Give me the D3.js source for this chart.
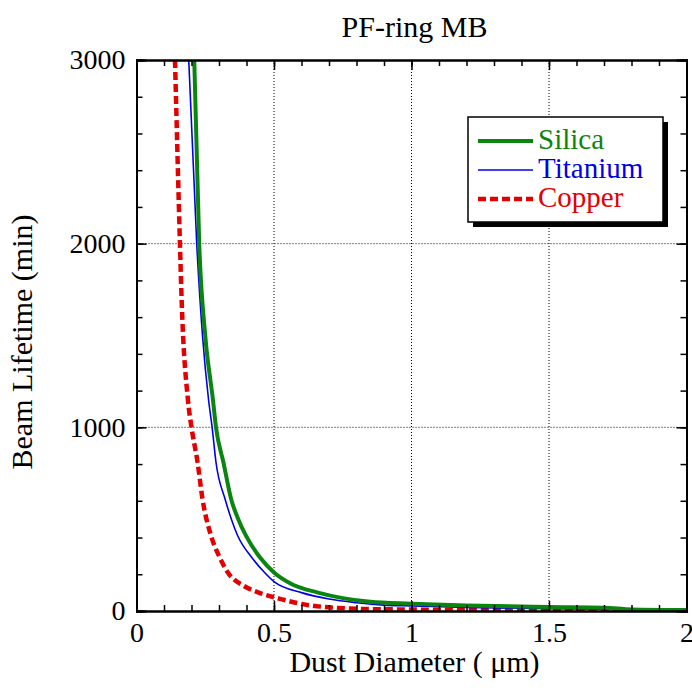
<!DOCTYPE html>
<html>
<head>
<meta charset="utf-8">
<script src="https://cdn.jsdelivr.net/npm/d3@7"></script>
<style>
    body { margin: 0; background: #fff; }
    text { font-family: "Liberation Serif", "Times New Roman", serif; }
</style>
</head>
<body>
<div id="chart"></div>
<script>
// values (diameter in um, lifetime in min)
let seriesNames = ["Silica", "Titanium", "Copper"]

let silicaD = [0.21, 0.228, 0.25, 0.278, 0.289, 0.316, 0.344, 0.37, 0.398, 0.45, 0.5, 0.56, 0.66, 0.75, 0.85, 1.0, 1.2, 1.5, 1.7, 1.8, 2.0]
let silicaL = [3000, 2000, 1500, 1150, 1000, 810, 610, 500, 410, 290, 210, 150, 100, 70, 50, 40, 30, 22, 18, 8, 5]

let titaniumD = [0.19, 0.219, 0.24, 0.262, 0.275, 0.289, 0.322, 0.345, 0.368, 0.42, 0.464, 0.5, 0.6, 0.7, 0.8, 0.9, 1.0, 1.2, 1.5, 2.0]
let titaniumL = [3000, 2000, 1500, 1150, 1000, 810, 610, 500, 410, 290, 212, 160, 100, 65, 45, 32, 28, 20, 12, 5]

let copperD = [0.14, 0.158, 0.164, 0.187, 0.2, 0.222, 0.24, 0.271, 0.3, 0.331, 0.391, 0.44, 0.525, 0.62, 0.7, 0.8, 1.0, 1.2, 1.5, 2.0]
let copperL = [3000, 2000, 1700, 1150, 1000, 810, 610, 410, 300, 212, 136, 103, 65, 33, 20, 12, 8, 5, 3, 2]

let xTicks = [0, 0.5, 1, 1.5, 2]
let xTickLabels = ["0", "0.5", "1", "1.5", "2"]
let yTicks = [0, 1000, 2000, 3000]
let yTickLabels = ["0", "1000", "2000", "3000"]

// set the dimensions and margins of the graph
let margin = {
        top: 60,
        right: 5.5,
        bottom: 80,
        left: 136.5
    },
    width = 692 - margin.left - margin.right,
    height = 691 - margin.top - margin.bottom;

let svg = d3.select("#chart")
    .append("svg")
    .attr("width", 692)
    .attr("height", 691)
    .append("g")
    .attr("transform", "translate(" + margin.left + "," + margin.top + ")");

let x = d3.scaleLinear().domain([0, 2]).range([0, width])
let y = d3.scaleLinear().domain([0, 3000]).range([height, 0])

let color = d3.scaleOrdinal().domain(seriesNames).range(["#0a850f", "#0000e6", "#e30000"])
let widths = { Silica: 4, Titanium: 1.6, Copper: 4.5 }
let dashes = { Silica: null, Titanium: null, Copper: "8,4" }

let dataReady = [
    { name: "Silica", values: silicaD.map((d, i) => ({ d: d, l: silicaL[i] })) },
    { name: "Titanium", values: titaniumD.map((d, i) => ({ d: d, l: titaniumL[i] })) },
    { name: "Copper", values: copperD.map((d, i) => ({ d: d, l: copperL[i] })) }
]

// dotted grid at the major ticks
svg.append("g")
    .selectAll("line")
    .data(xTicks.slice(1, -1))
    .enter()
    .append("line")
    .attr("x1", d => x(d)).attr("x2", d => x(d))
    .attr("y1", 0).attr("y2", height)
    .attr("stroke", "#000").attr("stroke-width", 1).attr("stroke-dasharray", "1,2")
svg.append("g")
    .selectAll("line")
    .data(yTicks.slice(1, -1))
    .enter()
    .append("line")
    .attr("y1", d => y(d)).attr("y2", d => y(d))
    .attr("x1", 0).attr("x2", width)
    .attr("stroke", "#000").attr("stroke-width", 1).attr("stroke-dasharray", "1,2")

// clip the curves to the frame
svg.append("clipPath").attr("id", "clip")
    .append("rect").attr("width", width).attr("height", height)

let line = d3.line()
    .x(d => x(d.d))
    .y(d => y(d.l))
    .curve(d3.curveMonotoneX)

svg.append("g")
    .attr("clip-path", "url(#clip)")
    .selectAll("path")
    .data(dataReady.slice().reverse())
    .enter()
    .append("path")
    .attr("d", d => line(d.values))
    .attr("fill", "none")
    .attr("stroke", d => color(d.name))
    .attr("stroke-width", d => widths[d.name])
    .attr("stroke-dasharray", d => dashes[d.name])

// axes with inward ticks on all four sides
let xMinor = d3.range(0, 2.0001, 0.1)
let yMinor = d3.range(0, 3000.1, 200)
svg.append("g")
    .attr("transform", "translate(0," + height + ")")
    .call(d3.axisBottom(x).tickValues(xMinor).tickSize(-6).tickFormat(""))
svg.append("g")
    .attr("transform", "translate(0," + height + ")")
    .call(d3.axisBottom(x).tickValues(xTicks).tickSize(-10).tickPadding(11)
        .tickFormat((d, i) => xTickLabels[i]))
svg.append("g")
    .call(d3.axisTop(x).tickValues(xMinor).tickSize(-6).tickFormat(""))
svg.append("g")
    .call(d3.axisTop(x).tickValues(xTicks).tickSize(-10).tickFormat(""))
svg.append("g")
    .call(d3.axisLeft(y).tickValues(yMinor).tickSize(-6).tickFormat(""))
svg.append("g")
    .call(d3.axisLeft(y).tickValues(yTicks).tickSize(-10).tickPadding(11)
        .tickFormat((d, i) => yTickLabels[i]))
svg.append("g")
    .attr("transform", "translate(" + width + ",0)")
    .call(d3.axisRight(y).tickValues(yMinor).tickSize(-6).tickFormat(""))
svg.append("g")
    .attr("transform", "translate(" + width + ",0)")
    .call(d3.axisRight(y).tickValues(yTicks).tickSize(-10).tickFormat(""))

svg.selectAll(".domain").attr("stroke", "#000").attr("stroke-width", 2)
svg.selectAll(".tick line").attr("stroke", "#000").attr("stroke-width", 1.5)
svg.selectAll(".tick text")
    .style("font-family", "'Liberation Serif', 'Times New Roman', serif")
    .style("font-size", "28px")
    .attr("fill", "#000")

// titles
svg.append("text")
    .attr("x", width / 2 + 3).attr("y", -23)
    .attr("text-anchor", "middle")
    .style("font-size", "30px")
    .text("PF-ring MB")
svg.append("text")
    .attr("x", width / 2 + 3).attr("y", height + 61)
    .attr("text-anchor", "middle")
    .style("font-size", "30px")
    .text("Dust Diameter ( \u03bcm)")
svg.append("text")
    .attr("transform", "translate(" + (32 - margin.left) + "," + (342 - margin.top) + ") rotate(-90)")
    .attr("text-anchor", "middle")
    .style("font-size", "30px")
    .text("Beam Lifetime (min)")

// legend box with shadow
let lg = svg.append("g").attr("transform", "translate(" + (468 - margin.left) + "," + (117 - margin.top) + ")")
lg.append("rect").attr("x", 5).attr("y", 5).attr("width", 195).attr("height", 105).attr("fill", "#000")
lg.append("rect").attr("width", 195).attr("height", 105)
    .attr("fill", "#fff").attr("stroke", "#000").attr("stroke-width", 1.5)
let rows = lg.selectAll("g.row")
    .data(seriesNames)
    .enter()
    .append("g")
    .attr("transform", (d, i) => "translate(0," + (24 + i * 29) + ")")
rows.append("line")
    .attr("x1", 10).attr("x2", 65)
    .attr("stroke", d => color(d))
    .attr("stroke-width", d => widths[d])
    .attr("stroke-dasharray", d => dashes[d])
rows.append("text")
    .attr("x", 70).attr("y", 8)
    .style("font-size", "29px")
    .attr("fill", d => color(d))
    .text(d => d)
</script>
</body>
</html>
